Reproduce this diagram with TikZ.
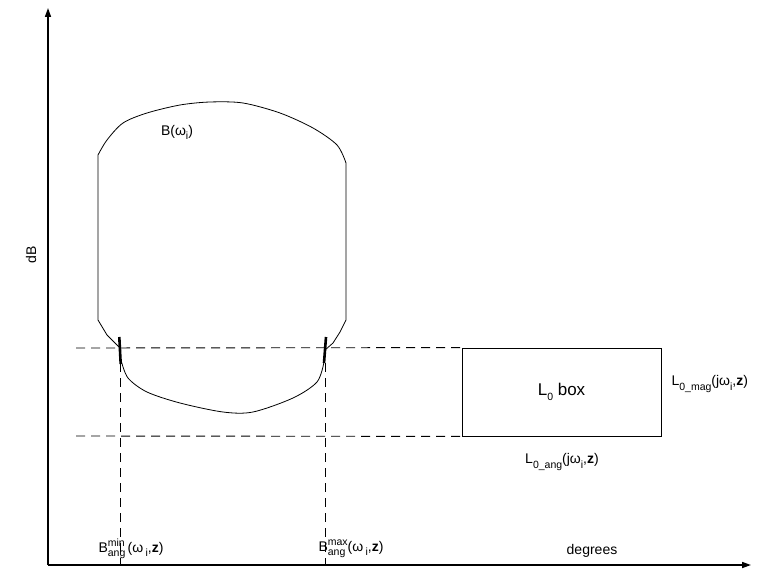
\documentclass[tikz,border=0pt]{standalone}
\usepackage{fontspec}
\setmainfont{Liberation Sans}
\usetikzlibrary{arrows.meta,positioning}
\newcommand{\Lo}[1]{\raisebox{-0.55ex}{\fontsize{10.5}{11}\selectfont #1}}
\newcommand{\Hi}[1]{\raisebox{0.85ex}{\fontsize{10.5}{11}\selectfont #1}}
\newcommand{\SupSub}[2]{\makebox[0pt][l]{\Hi{#1}}\Lo{#2}}

\begin{document}
\begin{tikzpicture}[x=1pt,y=-1pt,font=\fontsize{14}{16}\selectfont,
  axis/.style={line width=1.6pt,-{Triangle[length=9pt,width=6pt]}},
  guide/.style={dash pattern=on 9pt off 6pt,line width=0.9pt},
  blob/.style={line width=0.8pt},
  tick/.style={line width=2.6pt}]
  \useasboundingbox (0,0) rectangle (759,577);
  % axes
  \coordinate (o) at (48,565);
  \coordinate (ytop) at (48,8);
  \coordinate (xend) at (751,565);
  \draw[axis] (o) -- (ytop);
  \draw[axis] (o) -- (xend);
  \node[rotate=90] (ylab) at (31,255) {dB};
  \node (xlab) at (592,551) {degrees};
  % L0 box
  \node[draw,line width=0.8pt,minimum width=199pt,minimum height=88pt,
        font=\fontsize{17}{19}\selectfont] (lbox) at (561.5,392) {L\Lo{0} box};
  \node[anchor=west] (lmag) at (668,384) {L\Lo{0\_mag}(jω\Lo{i},\textbf{z})};
  \node (lang) at (562,462) {L\Lo{0\_ang}(jω\Lo{i},\textbf{z})};
  % dashed guides
  \coordinate (hi) at (76,348);
  \coordinate (lo) at (76,436);
  \draw[guide] (hi) -- (lbox.north west);
  \draw[guide] (lo) -- (lbox.south west);
  \foreach \n/\x in {amin/120,amax/325}{
    \coordinate (\n) at (\x,348);
    \coordinate (\n-o) at (\x,565);
    \draw[guide] (\n) -- (\n-o);}
  \node (bmin) at (131,549) {B\SupSub{min}{ang}\,(ω\,\Lo{i},\textbf{z})};
  \node (bmax) at (351,549) {B\SupSub{max}{ang}\,(ω\,\Lo{i},\textbf{z})};
  % B(w_i) template
  \draw[blob] (119,347) -- (107,335) -- (98,320) -- (98,155)
    plot[smooth] coordinates {(98,155) (107,140) (123,123) (147,113) (180,105)
      (210,102) (243,103) (280,113) (313,128) (337,145) (346,163)}
    -- (346,320) -- (340,332) -- (333,343) -- (325,350);
  \draw[blob] plot[smooth] coordinates {(121,360) (128,378) (147,392) (180,403)
      (223,412) (253,412) (293,398) (317,382) (324,362)};
  \node (blab) at (177,132) {B(ω\Lo{i})};
  \draw[tick] (119.3,337) -- (120.7,364);
  \draw[tick] (326,337) -- (324,363);
\end{tikzpicture}
\end{document}
